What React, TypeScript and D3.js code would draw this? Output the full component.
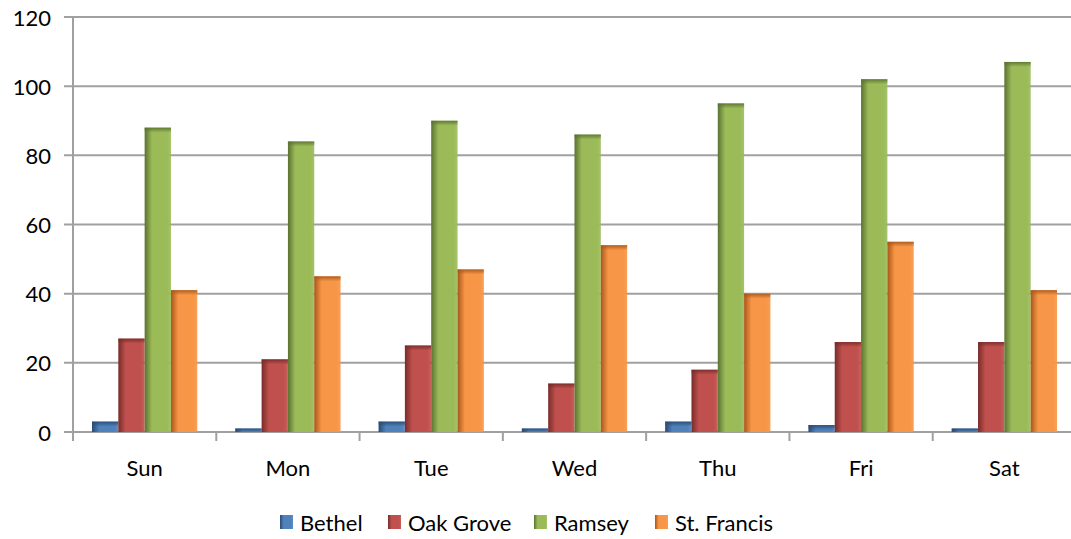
import React from "react";
import * as d3 from "d3";

const days = ["Sun", "Mon", "Tue", "Wed", "Thu", "Fri", "Sat"];
const seriesNames = ["Bethel", "Oak Grove", "Ramsey", "St. Francis"];
const bethel = [3, 1, 3, 1, 3, 2, 1];
const oakGrove = [27, 21, 25, 14, 18, 26, 26];
const ramsey = [88, 84, 90, 86, 95, 102, 107];
const stFrancis = [41, 45, 47, 54, 40, 55, 41];
const yTicks = [0, 20, 40, 60, 80, 100, 120];

const baseColors = ["#4F81BD", "#C0504D", "#9BBB59", "#F79646"];
const darkColors = ["#2a4a72", "#772c2a", "#5a7230", "#a9571a"];

const W = 1071;
const H = 539;
const margin = { left: 73, right: -5, top: 17, bottom: 107 };
const FONT = "Lato, 'Open Sans', sans-serif";

export default function App() {
  const values = [bethel, oakGrove, ramsey, stFrancis];
  const plotRight = W - margin.right;
  const plotBottom = H - margin.bottom;

  const x0 = d3.scaleBand().domain(days).range([margin.left, plotRight]).paddingInner(0).paddingOuter(0);
  const groupPad = 19;
  const x1 = d3
    .scaleBand()
    .domain(seriesNames)
    .range([groupPad, x0.bandwidth() - groupPad])
    .padding(0);
  const y = d3.scaleLinear().domain([0, 120]).range([plotBottom, margin.top]);

  const gridColor = "#a0a0a0";

  const legendItems = [
    { name: "Bethel", x: 280 },
    { name: "Oak Grove", x: 388 },
    { name: "Ramsey", x: 534 },
    { name: "St. Francis", x: 655 },
  ];

  return (
    <svg
      width={W}
      height={H}
      style={{ position: "absolute", left: 0, top: 0, display: "block", background: "#fff" }}
    >
      <defs>
        {seriesNames.map((_, i) => (
          <linearGradient key={i} id={`bar-grad-${i}`} x1="0" x2="1" y1="0" y2="0">
            <stop offset="0%" stopColor={darkColors[i]} />
            <stop offset="28%" stopColor={baseColors[i]} />
            <stop offset="85%" stopColor={baseColors[i]} />
            <stop offset="100%" stopColor={baseColors[i]} stopOpacity={0.9} />
          </linearGradient>
        ))}
        {seriesNames.map((_, i) => (
          <linearGradient key={`t${i}`} id={`top-grad-${i}`} x1="0" x2="0" y1="0" y2="1">
            <stop offset="0%" stopColor={darkColors[i]} stopOpacity={0.9} />
            <stop offset="100%" stopColor={darkColors[i]} stopOpacity={0} />
          </linearGradient>
        ))}
      </defs>

      {/* horizontal gridlines with left tick marks */}
      {yTicks.map((t) => (
        <g key={t}>
          <line x1={margin.left - 9} x2={plotRight} y1={y(t)} y2={y(t)} stroke={gridColor} strokeWidth={2} />
          <text
            x={51}
            y={y(t)}
            textAnchor="end"
            dominantBaseline="central"
            fontFamily={FONT}
            fontSize={22}
            fill="#000"
          >
            {t}
          </text>
        </g>
      ))}

      {/* vertical axis */}
      <line x1={margin.left} x2={margin.left} y1={y(120)} y2={plotBottom} stroke={gridColor} strokeWidth={2} />

      {/* category ticks */}
      {days.map((d) => (
        <line
          key={d}
          x1={x0(d)!}
          x2={x0(d)!}
          y1={plotBottom}
          y2={plotBottom + 9}
          stroke={gridColor}
          strokeWidth={2}
        />
      ))}

      {/* bars */}
      {days.map((d, di) => (
        <g key={d} transform={`translate(${x0(d)},0)`}>
          {seriesNames.map((s, si) => {
            const v = values[si][di];
            const bx = x1(s)!;
            const by = y(v);
            const bh = plotBottom - by;
            return (
              <g key={s}>
                <rect x={bx} y={by} width={x1.bandwidth()} height={bh} fill={`url(#bar-grad-${si})`} />
                <rect
                  x={bx}
                  y={by}
                  width={x1.bandwidth()}
                  height={Math.min(5, bh)}
                  fill={`url(#top-grad-${si})`}
                />
              </g>
            );
          })}
        </g>
      ))}

      {/* category labels */}
      {days.map((d) => (
        <text
          key={d}
          x={x0(d)! + x0.bandwidth() / 2}
          y={467}
          textAnchor="middle"
          dominantBaseline="central"
          fontFamily={FONT}
          fontSize={22}
          fill="#000"
        >
          {d}
        </text>
      ))}

      {/* legend */}
      {legendItems.map((it, i) => (
        <g key={it.name}>
          <rect x={it.x} y={515} width={13} height={14} fill={`url(#bar-grad-${i})`} />
          <text
            x={it.x + 20}
            y={522}
            dominantBaseline="central"
            fontFamily={FONT}
            fontSize={22}
            fill="#000"
          >
            {it.name}
          </text>
        </g>
      ))}
    </svg>
  );
}
